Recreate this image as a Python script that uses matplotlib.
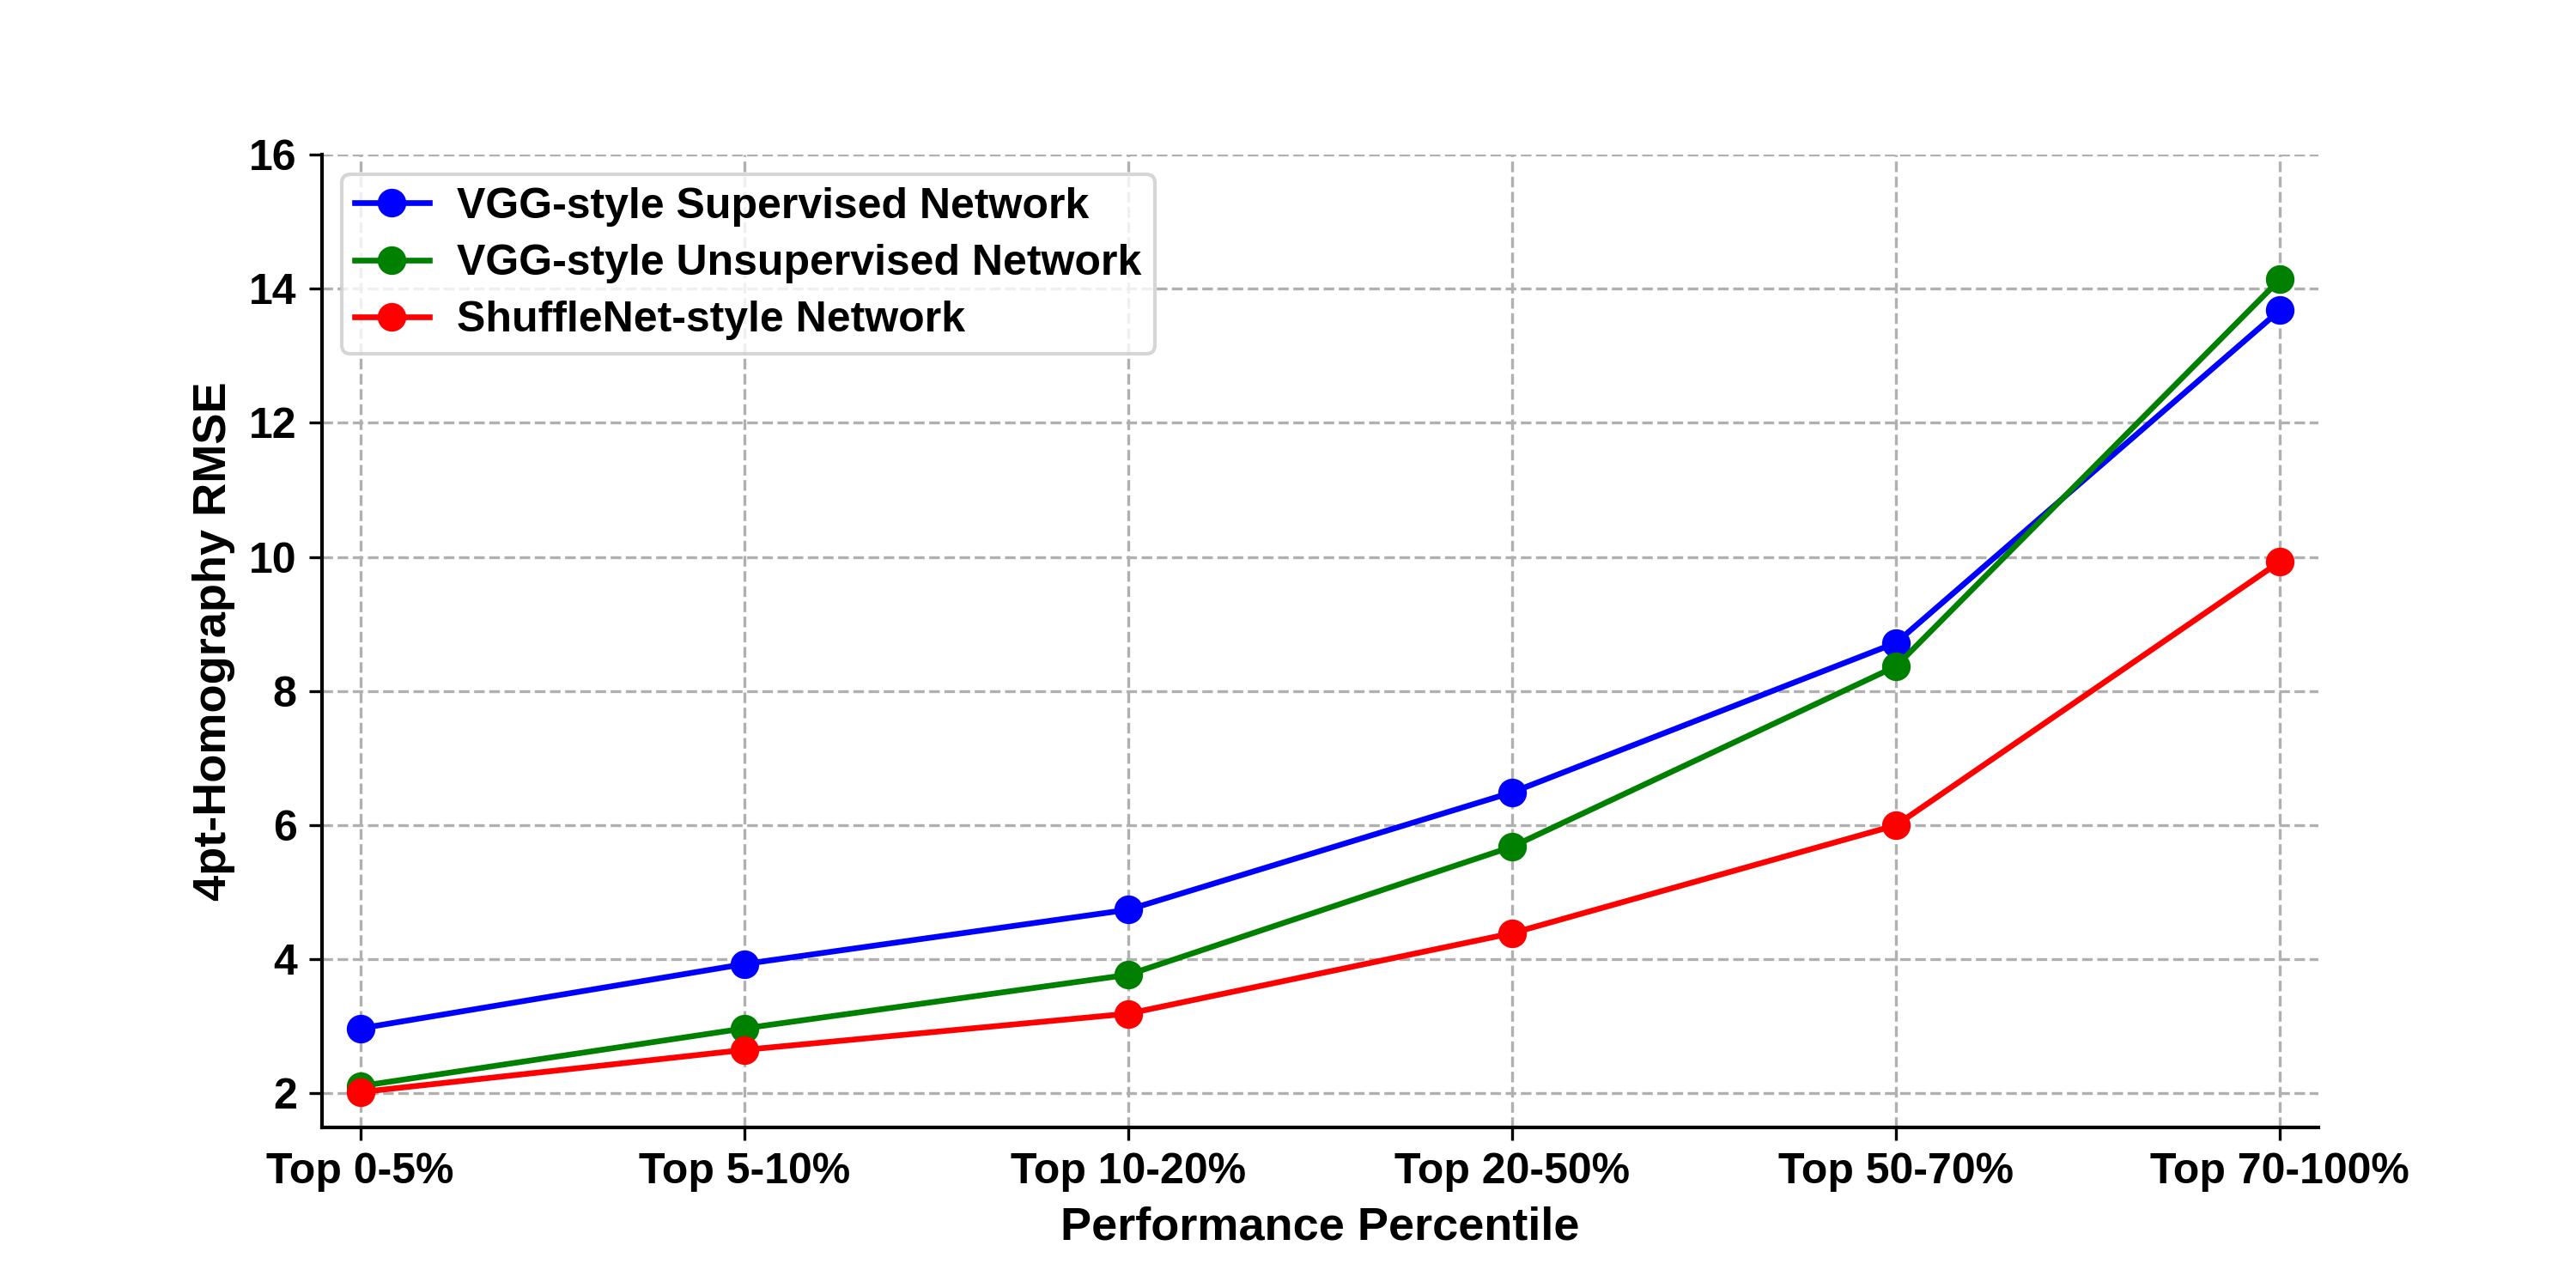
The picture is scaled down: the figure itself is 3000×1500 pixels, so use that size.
import matplotlib.pyplot as plt

# Daten
kategorien = ['Top 0-5%', 'Top 5-10%', 'Top 10-20%', 'Top 20-50%', 'Top 50-70%', 'Top 70-100%']
vgg_supervised = [2.97, 3.93, 4.74, 6.49, 8.72, 13.68]
vgg_unsupervised = [2.11, 2.97, 3.77, 5.68, 8.37, 14.14]
shufflenet = [2.02, 2.65, 3.19, 4.39, 6.00, 9.93]

plt.rcParams['font.family'] = ['Liberation Sans', 'DejaVu Sans']
plt.rcParams['font.weight'] = 'bold'

fig, ax = plt.subplots(figsize=(10, 5), dpi=300)
fig.subplots_adjust(left=0.125, right=0.9, top=0.88, bottom=0.125)

x = list(range(len(kategorien)))
ax.plot(x, vgg_supervised, color='blue', marker='o', lw=1.6, ms=7, label='VGG-style Supervised Network')
ax.plot(x, vgg_unsupervised, color='green', marker='o', lw=1.6, ms=7, label='VGG-style Unsupervised Network')
ax.plot(x, shufflenet, color='red', marker='o', lw=1.6, ms=7, label='ShuffleNet-style Network')

ax.set_xticks(x)
ax.set_xticklabels(kategorien, fontsize=12, fontweight='bold')
ax.set_yticks([2, 4, 6, 8, 10, 12, 14, 16])
ax.tick_params(axis='y', labelsize=12)
ax.set_xlim(-0.1, 5.1)
ax.set_ylim(1.5, 16)

ax.set_xlabel('Performance Percentile', fontsize=13, fontweight='bold', labelpad=4)
ax.set_ylabel('4pt-Homography RMSE', fontsize=13, fontweight='bold')

ax.spines['top'].set_visible(False)
ax.spines['right'].set_visible(False)
ax.spines['left'].set_linewidth(1.0)
ax.spines['bottom'].set_linewidth(1.0)

ax.grid(True, linestyle='--', color='#b0b0b0', lw=0.8)
ax.legend(loc='upper left', prop={'size': 12, 'weight': 'bold'}, labelspacing=0.41,
          handlelength=1.75, handletextpad=0.65, borderpad=0.3, borderaxespad=0.45)

plt.savefig('out.png', dpi=300)
